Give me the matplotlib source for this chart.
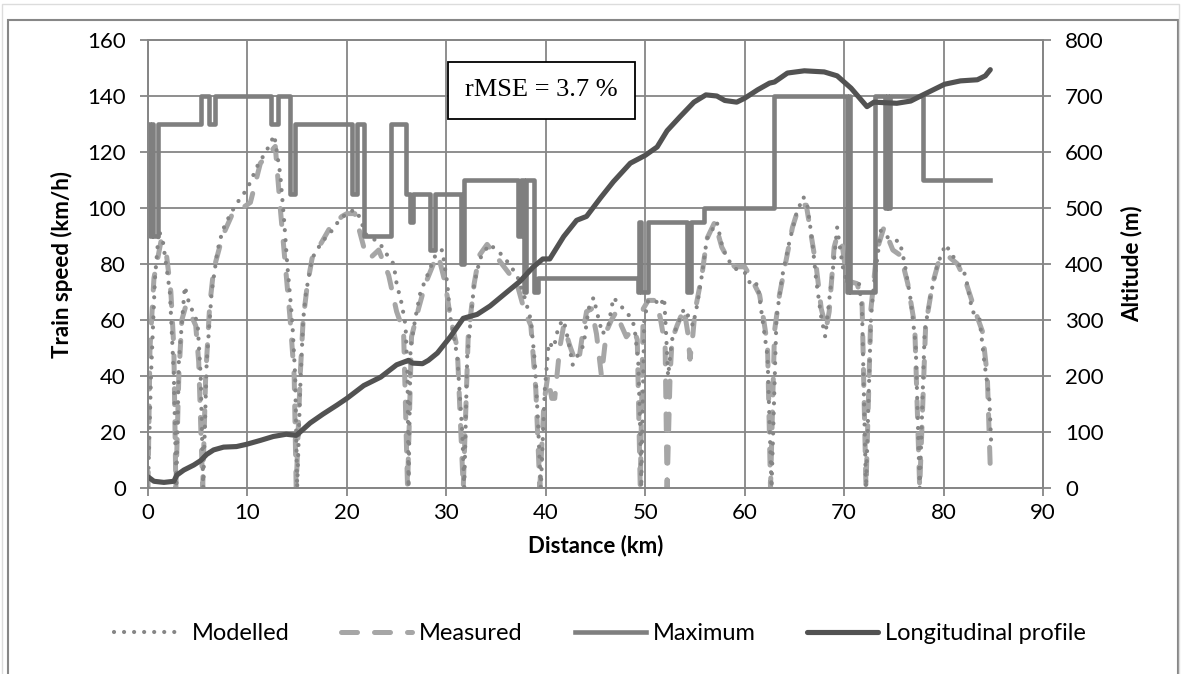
import numpy as np
import matplotlib.pyplot as plt
from matplotlib.patches import Rectangle

plt.rcParams['font.family'] = ['Lato', 'DejaVu Sans']

# Modelled train speed (km, km/h)
mod_km = [0, 0.3, 0.7, 1.1, 1.5, 2.2, 2.6, 2.85, 3.1, 3.7, 4.2, 4.7, 5.0, 5.3, 5.55, 5.9, 6.4, 7.0, 7.5, 8.3,
          9.0, 10.0, 11.0, 12.0, 12.7, 13.3, 13.7, 14.0, 14.5, 14.8, 15.0, 15.3, 15.6, 15.9, 16.5, 17.5, 18.3, 19.3,
          20.3, 21.0, 22.0, 23.2, 23.9, 24.7, 25.0, 25.5, 25.9, 26.1, 26.2, 26.4, 26.9, 27.4, 28.1, 29.0, 29.6,
          30.1, 30.4, 31.1, 31.6, 31.8, 32.1, 32.8, 33.4, 34.3, 35.1, 35.9, 37.1, 37.8, 38.5, 38.9, 39.2, 39.5,
          39.9, 40.3, 40.8, 41.3, 41.8, 42.3, 42.7, 43.3, 43.8, 44.3, 44.8, 45.2, 45.7, 46.3, 46.8, 47.3, 47.8,
          48.3, 48.9, 49.3, 49.5, 49.6, 49.9, 50.3, 51.0, 51.5, 51.9, 52.1, 52.3, 52.7, 53.2, 53.9, 54.4, 54.8,
          55.2, 55.7, 56.2, 56.7, 57.2, 57.7, 58.2, 59.2, 60.0, 60.7, 61.3, 61.8, 62.3, 62.7, 63.2, 63.8, 64.5,
          65.2, 65.9, 66.3, 66.8, 67.2, 67.7, 68.1, 68.5, 69.0, 69.3, 69.7, 70.0, 70.7, 71.5, 71.8, 72.2, 72.7,
          73.0, 73.7, 74.2, 74.6, 75.6, 76.1, 76.7, 77.2, 77.6, 78.1, 78.7, 79.4, 80.2, 80.9, 81.7, 82.2, 82.9,
          83.6, 84.1, 84.6, 84.8]
mod_v = [0, 40, 75, 92, 88, 70, 40, 0, 45, 72, 65, 62, 58, 40, 0, 45, 70, 85, 92, 98,
         102, 107, 115, 121, 126, 112, 95, 80, 60, 40, 0, 35, 60, 70, 82, 88, 91, 96,
         99, 99, 90, 88, 84, 80, 73, 66, 58, 40, 0, 50, 61, 70, 76, 84, 85,
         73, 61, 47, 20, 0, 47, 73, 82, 87, 85, 82, 76, 69, 60, 45, 25, 0,
         35, 52, 50, 58, 60, 52, 44, 48, 51, 64, 68, 62, 55, 58, 68, 66, 64,
         62, 58, 45, 20, 0, 60, 67, 67, 65, 68, 55, 40, 53, 58, 64, 61, 58,
         65, 76, 89, 92, 95, 87, 82, 78, 77, 72, 73, 60, 47, 0, 61, 76, 88,
         98, 104, 101, 88, 74, 61, 54, 67, 82, 93, 83, 76, 72, 73, 64, 0, 61,
         73, 92, 90, 89, 88, 80, 67, 51, 0, 56, 69, 80, 87, 83, 79, 76, 63,
         61, 45, 32, 15]

# Measured train speed (km, km/h)
meas_km = [0, 0.2, 0.6, 1.3, 1.8, 2.3, 2.6, 2.8, 3.1, 3.4, 3.8, 4.3, 4.8, 5.1, 5.5, 5.8, 6.2, 6.6, 7.5, 8.5,
           9.5, 10.3, 11.3, 12.3, 12.8, 13.3, 13.8, 14.3, 14.7, 14.9, 15.3, 15.6, 16.0, 16.5, 17.5, 18.3, 19.5,
           20.0, 20.8, 21.7, 22.3, 23.2, 24.2, 25.0, 25.7, 26.1, 26.5, 27.2, 27.9, 28.7, 29.2, 29.9, 30.4, 31.1,
           31.7, 32.2, 32.8, 33.3, 34.1, 35.8, 37.1, 37.8, 38.5, 39.0, 39.4, 39.8, 40.2, 40.6, 40.9, 41.4, 41.8,
           42.4, 42.8, 43.3, 43.7, 44.1, 44.6, 45.1, 45.6, 46.1, 46.6, 47.1, 47.6, 48.1, 48.8, 49.2, 49.5, 49.8,
           50.3, 51.0, 51.5, 52.0, 52.2, 52.5, 52.7, 53.2, 53.9, 54.3, 54.5, 54.8, 55.0, 55.7, 56.2, 57.0, 57.7,
           58.3, 59.0, 60.0, 60.5, 61.5, 62.0, 62.3, 62.6, 63.0, 63.5, 64.2, 64.8, 65.5, 66.2, 66.7, 67.2, 67.7,
           68.2, 68.5, 69.0, 69.3, 69.8, 70.3, 71.3, 71.8, 72.2, 72.7, 73.3, 74.0, 74.9, 75.7, 76.4, 77.1, 77.6,
           78.2, 78.9, 79.6, 80.4, 81.4, 82.2, 83.2, 83.9, 84.4, 84.7]
meas_v = [0, 50, 75, 88, 85, 70, 50, 0, 40, 60, 65, 62, 58, 45, 0, 40, 65, 78, 90, 98,
          100, 102, 116, 120, 122, 100, 80, 60, 40, 0, 40, 60, 72, 82, 88, 93, 97,
          98, 98, 86, 82, 85, 76, 63, 56, 0, 54, 64, 73, 80, 83, 73, 61, 50,
          0, 54, 73, 83, 87, 79, 73, 64, 58, 35, 0, 30, 40, 32, 32, 50, 58,
          51, 47, 45, 55, 63, 64, 55, 40, 56, 60, 63, 58, 54, 57, 53, 0, 64,
          67, 67, 61, 51, 0, 40, 53, 58, 64, 55, 46, 55, 63, 76, 89, 95, 86,
          82, 79, 79, 76, 69, 58, 51, 0, 56, 69, 82, 93, 101, 101, 90, 79, 64,
          57, 63, 86, 90, 87, 74, 73, 67, 0, 64, 85, 93, 85, 83, 73, 58, 0,
          58, 73, 82, 83, 80, 74, 63, 56, 40, 7]

# Maximum speed: value valid from each km onwards
max_km = [0, 0.2, 0.45, 0.55, 1.0, 5.3, 6.1, 6.7, 12.4, 13.1, 14.3, 14.8, 20.5, 21.0, 21.7, 24.4, 25.9, 26.3,
          26.6, 28.4, 28.9, 31.5, 31.8, 37.2, 37.5, 37.8, 38.0, 38.8, 39.2, 49.3, 49.4, 49.6, 50.3, 54.2,
          54.6, 55.9, 62.9, 70.3, 70.45, 70.55, 73.1, 74.1, 74.3, 74.4, 74.6, 77.9, 84.7]
max_v = [130, 90, 130, 90, 130, 140, 130, 140, 130, 140, 105, 130, 105, 130, 90, 130, 105, 95,
         105, 85, 105, 80, 110, 90, 110, 70, 110, 70, 75, 70, 95, 70, 95, 70,
         95, 100, 140, 70, 140, 70, 140, 100, 140, 100, 140, 110, 110]

# Longitudinal profile (km, m)
alt_km = [0, 0.6, 1.6, 2.6, 2.9, 3.6, 4.6, 5.3, 5.9, 6.6, 7.6, 8.9, 9.9, 11.3, 12.6, 13.9, 14.9, 15.3, 16.3,
          17.6, 19.0, 20.0, 21.7, 23.4, 25.0, 26.2, 26.6, 27.6, 28.2, 29.1, 30.4, 31.7, 33.1, 34.4, 36.1, 37.4,
          38.7, 39.7, 40.4, 41.8, 43.1, 44.1, 45.5, 46.8, 48.5, 50.0, 51.2, 52.2, 53.5, 54.9, 56.1, 57.2, 58.0,
          59.2, 60.0, 61.3, 62.5, 63.0, 64.3, 66.0, 68.0, 69.3, 70.7, 72.3, 73.0, 75.3, 76.7, 77.7, 80.1, 81.7,
          83.4, 84.2, 84.7]
alt_m = [20, 12, 10, 12, 23, 32, 41, 49, 60, 68, 73, 74, 78, 85, 92, 96, 94, 100, 116,
         132, 148, 160, 183, 198, 220, 228, 223, 222, 228, 241, 270, 303, 310, 325, 350, 369,
         394, 409, 409, 449, 478, 485, 518, 547, 580, 594, 609, 638, 663, 689, 702, 700, 692,
         689, 696, 711, 723, 725, 741, 745, 743, 736, 714, 681, 689, 687, 691, 700, 721, 727,
         729, 736, 747]

grid_c = '#868686'
fs = 16

fig = plt.figure(figsize=(11.81, 6.74), dpi=100)
ax = fig.add_axes([148/1181, 1 - 488/674, 895/1181, 448/674])
ax2 = ax.twinx()

l_meas, = ax.plot(meas_km, meas_v, color='#a6a6a6', lw=3.6, ls=(0, (3.2, 3.4)),
                  dash_capstyle='round', label='Measured', zorder=2)
l_mod, = ax.plot(mod_km, mod_v, color='#858585', lw=3.0, ls=(0, (0.01, 2.4)),
                 dash_capstyle='round', label='Modelled', zorder=3)
l_max, = ax.step(max_km, max_v, where='post', color='#7f7f7f', lw=3.3, label='Maximum', zorder=4)
l_alt, = ax2.plot(alt_km, alt_m, color='#525252', lw=3.7, solid_capstyle='round',
                  label='Longitudinal profile')

ax.set_xlim(0, 90)
ax.set_ylim(0, 160)
ax2.set_ylim(0, 800)
ax.set_xticks(np.arange(0, 91, 10))
ax.set_yticks(np.arange(0, 161, 20))
ax2.set_yticks(np.arange(0, 801, 100))
ax.grid(True, color=grid_c, lw=1.3)
ax.set_axisbelow(True)

for a in (ax, ax2):
    for sp in a.spines.values():
        sp.set_color(grid_c)
        sp.set_linewidth(1.3)
    a.tick_params(colors=grid_c, labelcolor='black', labelsize=fs, length=6, width=1.3, direction='out')
ax.tick_params(axis='y', pad=10)
ax.tick_params(axis='x', pad=5)
ax2.tick_params(axis='y', pad=10)

ax.set_xlabel('Distance (km)', fontsize=fs, fontweight='bold', labelpad=8)
ax.set_ylabel('Train speed (km/h)', fontsize=fs, fontweight='bold', labelpad=10)
ax2.set_ylabel('Altitude (m)', fontsize=fs, fontweight='bold', labelpad=12)

ax.text(39.6, 142, 'rMSE = 3.7 %', fontsize=19, family=['Liberation Serif', 'DejaVu Serif'],
        ha='center', va='center', zorder=10,
        bbox=dict(boxstyle='square,pad=0.65', fc='white', ec='black', lw=1.3))

fig.legend([l_mod, l_meas, l_max, l_alt], ['Modelled', 'Measured', 'Maximum', 'Longitudinal profile'],
           loc='center', bbox_to_anchor=(0.508, 1 - 634/674), ncol=4, frameon=False, fontsize=17,
           handlelength=3.0, handletextpad=0.3, columnspacing=2.2)

# chart frame
fig.patches.append(Rectangle((8/1181, -0.05), 1170/1181, 1.035 - 10/674, transform=fig.transFigure,
                             fill=False, ec='#878787', lw=1.5))
fig.patches.append(Rectangle((2/1181, -0.05), 1177/1181, 1.047 - 2/674, transform=fig.transFigure,
                             fill=False, ec='#dcdcdc', lw=1.0))

fig.savefig('out.png', dpi=100)
